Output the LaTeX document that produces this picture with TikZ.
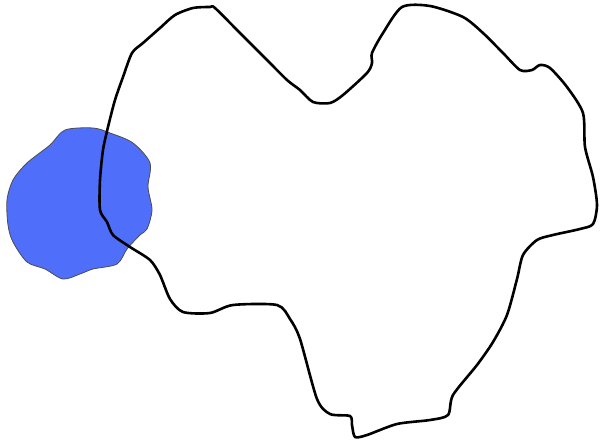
\documentclass[tikz,border=0pt]{standalone}
\definecolor{blobblue}{HTML}{4F6FFA}
\begin{document}
\begin{tikzpicture}[x=1pt,y=-1pt,
  blob/.style={fill=blobblue,draw=black!70,line width=0.8pt},
  outline/.style={draw=black,line width=2.6pt,line join=round}]
\useasboundingbox[fill=white] (0,0) rectangle (600,444);
\fill[blob] plot[smooth cycle,tension=0.5] coordinates {
 (65,130) (93,128) (110,133) (133,143) (150,163) (148,187) (152,210)
 (147,229) (140,235) (127,249) (117,264) (93,269) (80,274) (63,279)
 (45,269) (27,262) (13,242) (8,225) (7,200) (13,180) (27,163) (50,145)};
\draw[outline] plot[smooth cycle,tension=0.45] coordinates {
 (210,7) (193,8) (175,15) (160,28) (143,43) (132,53) (123,77) (115,100)
 (108,127) (103,150) (100,180) (100,210) (107,222) (113,235) (130,247)
 (150,260) (160,275) (170,299) (183,312) (210,313) (233,305) (277,305)
 (290,319) (300,339) (317,399) (330,414) (350,416) (352,425) (355,437)
 (367,435) (397,424) (430,420) (448,415) (453,395) (477,365) (493,342)
 (507,315) (517,279) (523,255) (537,240) (553,235) (580,229) (593,224)
 (597,205) (593,177) (585,147) (583,113) (567,87) (550,68) (540,65)
 (532,70) (520,70) (503,53) (483,33) (463,17) (430,6) (402,7) (383,33)
 (372,53) (372,63) (367,73) (343,95) (330,103) (313,102) (300,90)
 (287,80) (267,60) (240,33) (215,8)};
\end{tikzpicture}
\end{document}
